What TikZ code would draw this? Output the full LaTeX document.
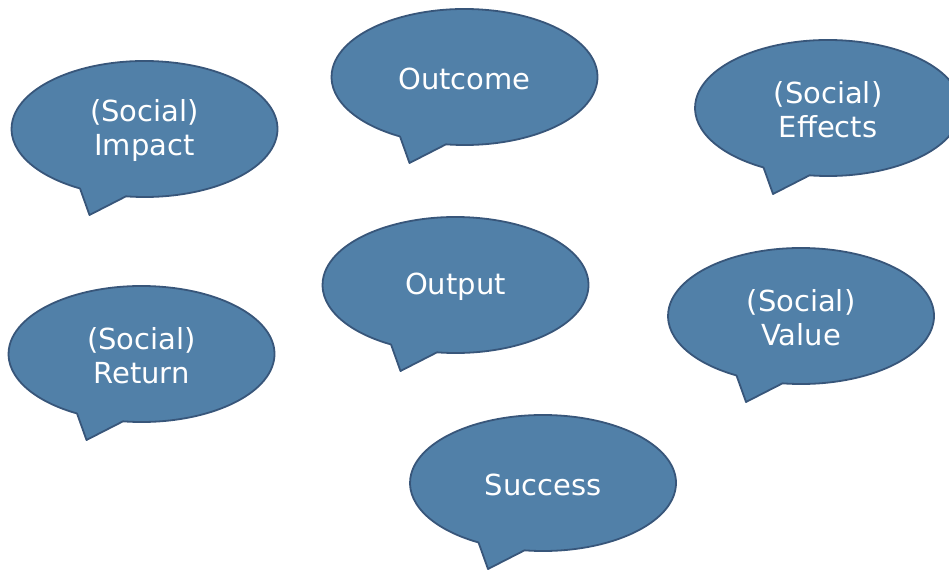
\documentclass[tikz,border=0pt]{standalone}
\usepackage{fontspec}
\setmainfont{DejaVu Sans}
\usetikzlibrary{calc}
\definecolor{bubblefill}{RGB}{81,128,168}
\definecolor{bubbleline}{RGB}{56,86,122}
\tikzset{
  bubbleshape/.style={fill=bubblefill, draw=bubbleline, line width=1.8pt, line join=round},
  bubbletext/.style={text=white, align=center, font=\fontsize{29}{34}\selectfont, inner sep=0pt},
}
% speech bubble: ellipse with a tail towards the lower left, then its label
\newcommand{\speechbubble}[4]{%
  \coordinate (#1-c) at (#2,#3);
  \path[bubbleshape]
    ($(#1-c)+(262:133pt and 68pt)$)
    arc[start angle=262, end angle=601, x radius=133pt, y radius=68pt]
    -- ($(#1-c)+(-55pt,-86pt)$) -- cycle;
  \node[bubbletext] (#1) at ($(#1-c)+(0,-2pt)$) {#4};
}
\begin{document}
\begin{tikzpicture}[x=1pt,y=1pt]
  \useasboundingbox (0,0) rectangle (949,570);
  \speechbubble{impact}{144.5}{441}{(Social)\\Impact}
  \speechbubble{outcome}{464.5}{493}{Outcome}
  \speechbubble{effects}{828}{462}{(Social)\\Effects}
  \speechbubble{output}{455.5}{285}{Output}
  \speechbubble{return}{141.5}{216}{(Social)\\Return}
  \speechbubble{value}{801}{254}{(Social)\\Value}
  \speechbubble{success}{543}{87}{Success}
\end{tikzpicture}
\end{document}
